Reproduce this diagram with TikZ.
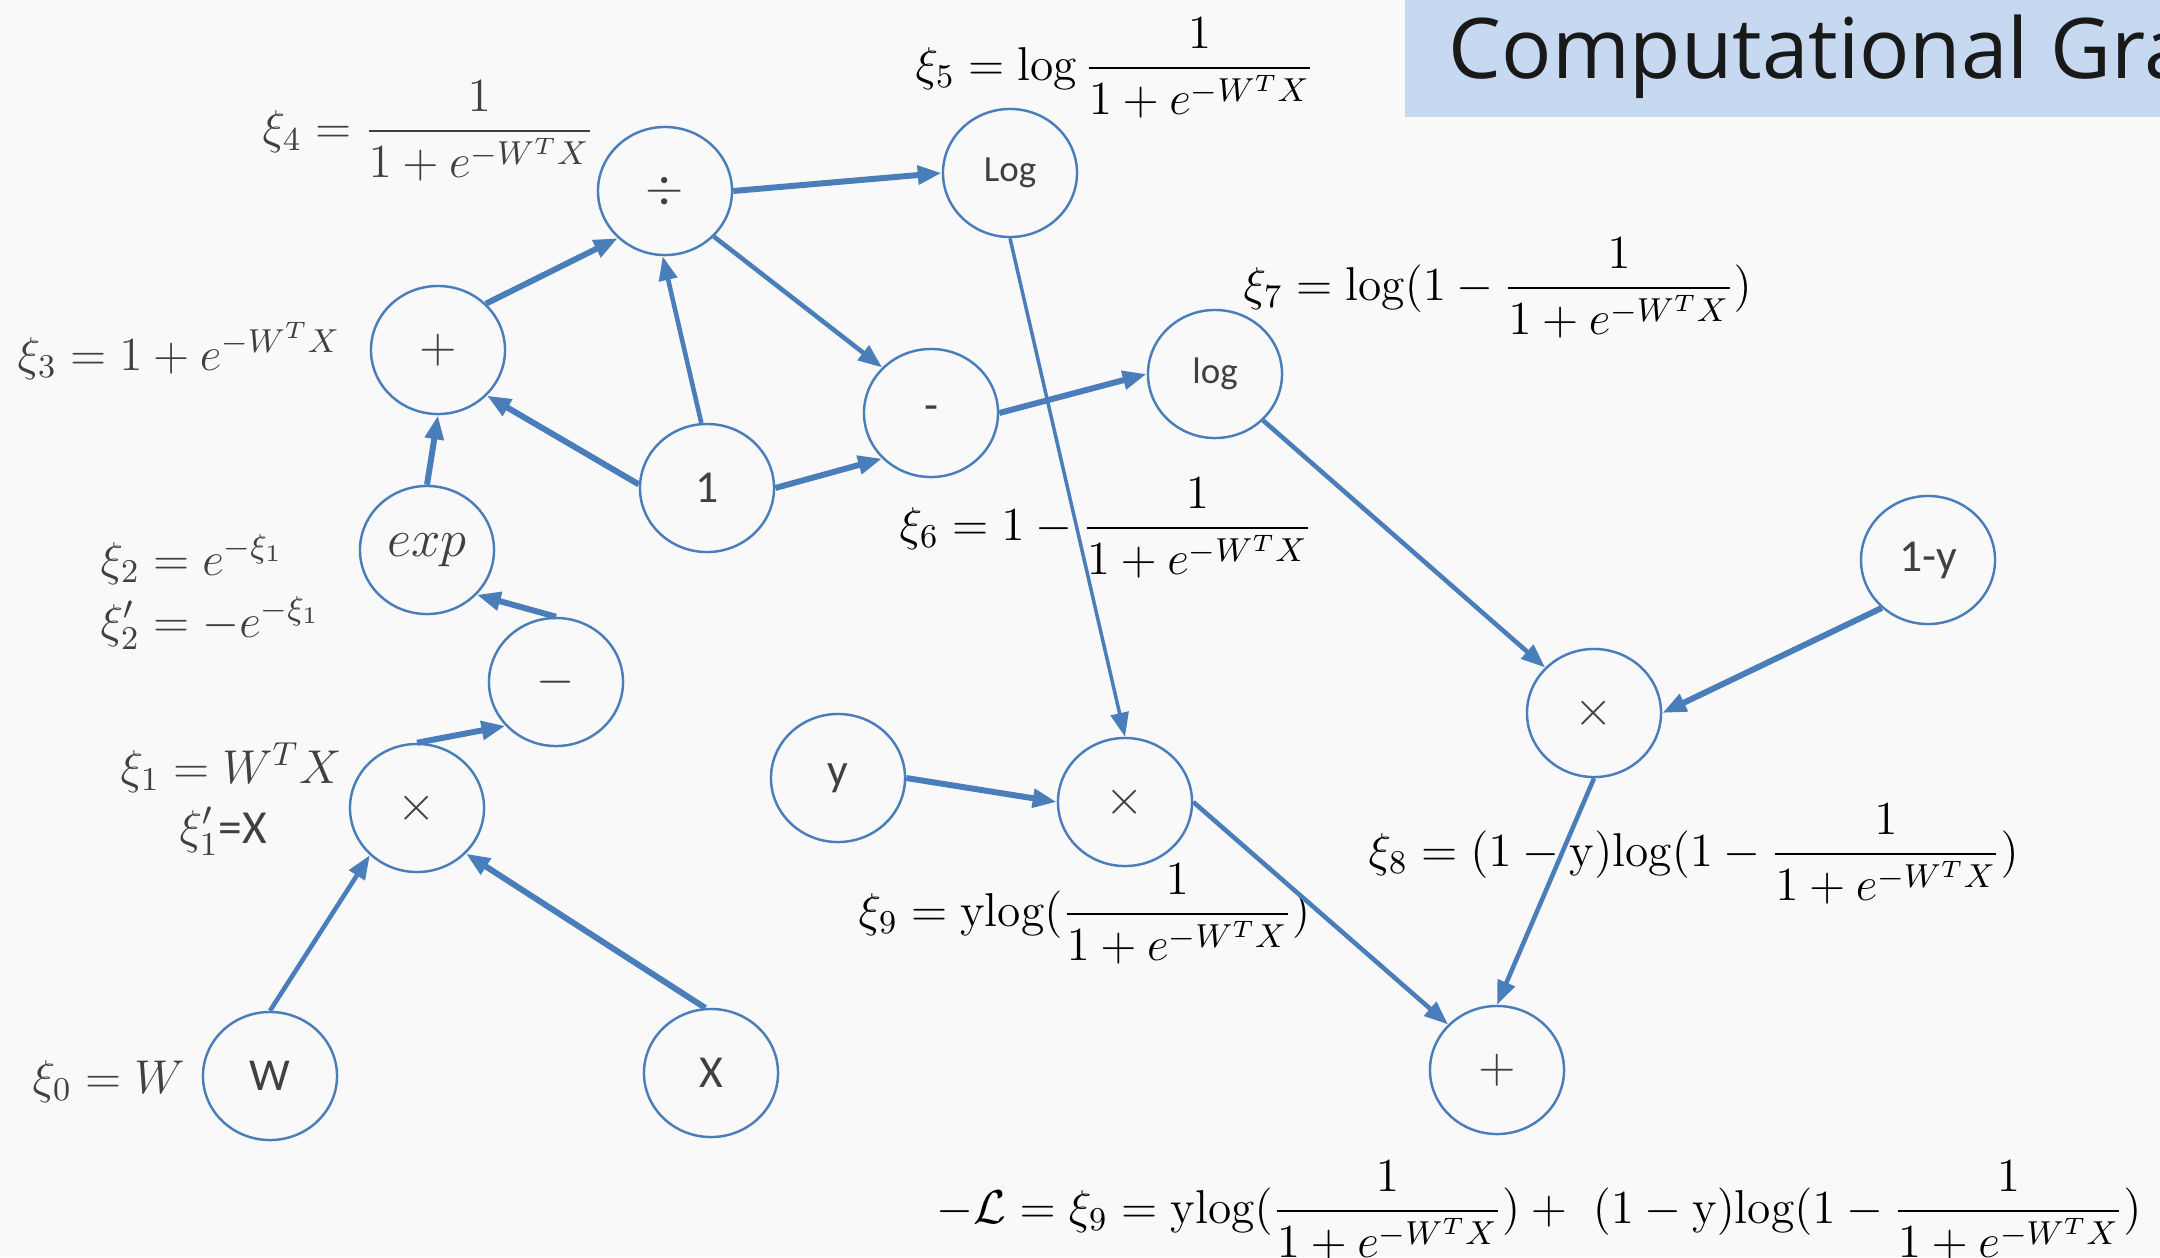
\RequirePackage{fix-cm}
\documentclass[tikz,border=0pt]{standalone}
\usepackage{amsmath}
\usepackage{fontspec}
\newfontfamily\calib{Carlito}
\newfontfamily\titlefont{Open Sans}
\usetikzlibrary{arrows.meta,shapes.geometric}
\definecolor{bg}{HTML}{F9F9F9}
\definecolor{edge}{HTML}{4A7EBB}
\definecolor{titlebg}{HTML}{C6D9F1}
\definecolor{ink}{HTML}{404040}
\tikzset{
  opnode/.style={ellipse, draw=edge, line width=0.7pt, minimum width=1.34cm, minimum height=1.28cm,
    inner sep=0pt, text=ink, font=\calib\fontsize{13}{14}\selectfont},
  smallop/.style={opnode, font=\calib\fontsize{10.5}{12}\selectfont},
  mathop/.style={opnode, font=\fontsize{14}{15}\selectfont},
  conn/.style={edge, line width=1.7pt, -{Triangle[length=0.24cm,width=0.18cm]}},
  connm/.style={conn, line width=1.3pt},
  connt/.style={conn, line width=1.0pt},
  lbl/.style={inner sep=0pt, font=\fontsize{13.5}{15}\selectfont},
  glbl/.style={lbl, text=ink},
}
\begin{document}
\begin{tikzpicture}[x=0.01cm, y=-0.01cm]
\useasboundingbox (0,0) rectangle (2160,1257);
\clip (0,0) rectangle (2160,1257);
\fill[bg] (0,0) rectangle (2160,1257);
% title
\fill[titlebg] (1405,0) rectangle (2170,117);
\node[anchor=base west, inner sep=0pt, font=\titlefont\fontsize{23.8}{26}\selectfont, text=black!90] (title) at (1448,78) {Computational Graph};

% equation labels
\node[glbl, anchor=west] (l4) at (262,131) {$\xi_4 = \dfrac{1}{1+e^{-W^TX}}$};
\node[glbl, anchor=base west] (l3) at (17,370) {$\xi_3 = 1+e^{-W^TX}$};
\node[glbl, anchor=base west] (l2) at (100,575) {$\xi_2 = e^{-\xi_1}$};
\node[glbl, anchor=base west] (l2p) at (100,637) {$\xi_2' = -e^{-\xi_1}$};
\node[glbl, anchor=base west] (l1) at (120,783) {$\xi_1 = W^TX$};
\node[glbl, anchor=base west] (l1p) at (179,843) {$\xi_1'${\calib=X}};
\node[glbl, anchor=base west] (l0) at (32,1093) {$\xi_0 = W$};
\node[lbl, anchor=west] (l5) at (915,68) {$\xi_5 = \log\dfrac{1}{1+e^{-W^TX}}$};
\node[lbl, anchor=west] (l6) at (899,528) {$\xi_6 = 1-\dfrac{1}{1+e^{-W^TX}}$};
\node[lbl, anchor=west] (l7) at (1243,288) {$\xi_7 = \mathrm{log}(1-\dfrac{1}{1+e^{-W^TX}})$};
\node[lbl, anchor=west] (l9) at (858,914) {$\xi_9 = \mathrm{ylog}(\dfrac{1}{1+e^{-W^TX}})$};
\node[lbl, anchor=west] (l8) at (1368,854) {$\xi_8 = (1-\mathrm{y})\mathrm{log}(1-\dfrac{1}{1+e^{-W^TX}})$};
\node[lbl, anchor=west] (lL) at (936,1211) {$-\mathcal{L} = \xi_9 = \mathrm{ylog}(\dfrac{1}{1+e^{-W^TX}}) +\ (1-\mathrm{y})\mathrm{log}(1-\dfrac{1}{1+e^{-W^TX}})$};

% nodes
\node[opnode] (W) at (270,1076) {W};
\node[opnode] (X) at (711,1073) {X};
\node[mathop] (m1) at (417,808) {$\times$};
\node[mathop] (neg) at (556,682) {$-$};
\node[opnode, font=\fontsize{15}{16}\selectfont] (exp) at (427,550) {$exp$};
\node[mathop] (plus) at (438,350) {$+$};
\node[opnode] (one) at (707,488) {1};
\node[mathop] (div) at (665,191) {$\div$};
\node[smallop] (Log) at (1010,173) {Log};
\node[opnode] (sub) at (931,413) {-};
\node[smallop] (log) at (1215,374) {log};
\node[opnode] (omy) at (1928,560) {1-y};
\node[mathop] (m8) at (1594,713) {$\times$};
\node[opnode] (y) at (838,778) {y};
\node[mathop] (m9) at (1125,802) {$\times$};
\node[mathop] (pb) at (1497,1070) {$+$};

% connectors
\draw[connm] (W.north) -- (m1.225);
\draw[conn] (X.95) -- (m1.317);
\draw[conn] (m1.north) -- (neg.221);
\draw[conn] (neg.north) -- (exp.318);
\draw[conn] (exp.north) -- (plus.south);
\draw[conn] (one.177) -- (plus.317);
\draw[conn] (plus.44) -- (div.225);
\draw[connm] (one.95) -- (div.268);
\draw[conn] (div.east) -- (Log.west);
\draw[connm] (div.317) -- (sub.137);
\draw[conn] (one.east) -- (sub.223);
\draw[conn] (sub.east) -- (log.west);
\draw[connt] (Log.south) -- (m9.north);
\draw[connm] (log.316) -- (m8.137);
\draw[conn] (omy.226) -- (m8.east);
\draw[conn] (y.east) -- (m9.west);
\draw[connm] (m9.east) -- (pb.137);
\draw[connm] (m8.south) -- (pb.north);
\end{tikzpicture}
\end{document}
